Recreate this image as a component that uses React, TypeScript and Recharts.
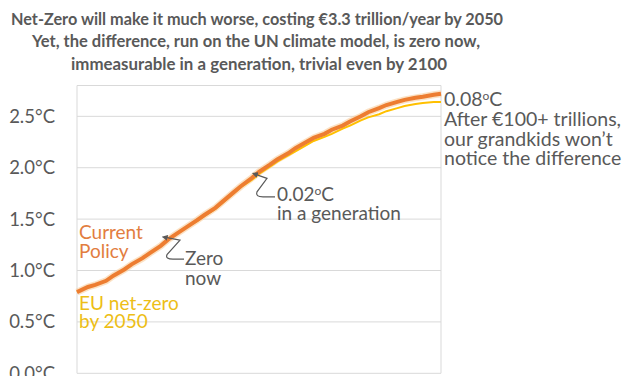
import React from "react";
import { LineChart, Line, XAxis, YAxis, CartesianGrid, ReferenceDot } from "recharts";

const years = [2000, 2003, 2005, 2008, 2010, 2013, 2015, 2018, 2020, 2023, 2025, 2027, 2030, 2033, 2035, 2038, 2040, 2043, 2045, 2048, 2050, 2053, 2055, 2058, 2060, 2063, 2065, 2068, 2070, 2073, 2075, 2078, 2080, 2083, 2085, 2088, 2090, 2093, 2095, 2098, 2100];
const currentPolicy = [0.79, 0.84, 0.86, 0.9, 0.95, 1.01, 1.06, 1.12, 1.17, 1.24, 1.3, 1.35, 1.42, 1.49, 1.54, 1.61, 1.67, 1.76, 1.82, 1.9, 1.96, 2.03, 2.08, 2.14, 2.19, 2.25, 2.29, 2.33, 2.37, 2.41, 2.45, 2.5, 2.54, 2.58, 2.61, 2.64, 2.66, 2.68, 2.69, 2.71, 2.72];
const euNetZero = [0.79, 0.84, 0.86, 0.9, 0.95, 1.01, 1.06, 1.12, 1.17, 1.24, 1.3, 1.35, 1.42, 1.48, 1.53, 1.6, 1.66, 1.75, 1.81, 1.88, 1.94, 2.01, 2.06, 2.12, 2.16, 2.22, 2.26, 2.3, 2.33, 2.38, 2.41, 2.46, 2.49, 2.52, 2.55, 2.58, 2.6, 2.62, 2.63, 2.64, 2.64];
const yTicks = [0, 0.5, 1, 1.5, 2, 2.5];
const xTicks = [2000, 2020, 2040, 2060, 2080, 2100];
const titleLines = [
  "Net-Zero will make it much worse, costing €3.3 trillion/year by 2050",
  "Yet, the difference, run on the UN climate model, is zero now,",
  "immeasurable in a generation, trivial even by 2100",
];
const titleWidths = [492, 448, 376];
const seriesNames = ["Current", "Policy", "EU net-zero", "by 2050"];

const data = years.map((year, i) => ({ year, current: currentPolicy[i], eu: euNetZero[i] }));

const FONT = "Lato, 'Open Sans', sans-serif";
const GREY = "#595959";
const ORANGE = "#ED7D31";
const YELLOW = "#FFC000";

const Deg = ({ v }: { v: string }) => (
  <>
    {v}
    <tspan fontSize={12} dy={-6}>o</tspan>
    <tspan dy={6}>C</tspan>
  </>
);

const Arrow = ({ d, id }: { d: string; id: string }) => (
  <g>
    <defs>
      <marker id={id} viewBox="0 0 10 10" refX="1" refY="5" markerWidth="5" markerHeight="5" orient="auto-start-reverse">
        <path d="M0,0 L10,5 L0,10 z" fill={GREY} />
      </marker>
    </defs>
    <path d={d} fill="none" stroke={GREY} strokeWidth={1.2} markerStart={`url(#${id})`} />
  </g>
);

const ZeroNow = (p: any) => {
  const { cx, cy } = p;
  const d = `M${cx - 1},${cy - 2} L${cx + 12},${cy + 0.5} L${cx - 1},${cy + 15} Q${cx - 3},${cy + 19.5} ${cx + 5},${cy + 19.5} L${cx + 16},${cy + 19.5}`;
  return (
    <g>
      <Arrow d={d} id="arrZero" />
      <text x={cx + 17} y={cy + 25.5} fill={GREY} fontFamily={FONT} fontSize={19}>Zero</text>
      <text x={cx + 17} y={cy + 45} fill={GREY} fontFamily={FONT} fontSize={19}>now</text>
    </g>
  );
};

const Generation = (p: any) => {
  const { cx, cy } = p;
  const d = `M${cx - 2},${cy + 3} L${cx + 8},${cy + 6.5} L${cx - 2},${cy + 20} Q${cx - 4},${cy + 25} ${cx + 4},${cy + 25} L${cx + 16},${cy + 25}`;
  return (
    <g>
      <Arrow d={d} id="arrGen" />
      <text x={cx + 18} y={cy + 29.5} fill={GREY} fontFamily={FONT} fontSize={19}><Deg v="0.02" /></text>
      <text x={cx + 18} y={cy + 48} fill={GREY} fontFamily={FONT} fontSize={19}>in a generation</text>
    </g>
  );
};

const EndNote = (p: any) => {
  const { cx, cy } = p;
  return (
    <g fill={GREY} fontFamily={FONT} fontSize={19.5}>
      <text x={cx + 3} y={cy + 12.3}><Deg v="0.08" /></text>
      <text x={cx + 3} y={cy + 32.5}>After €100+ trillions,</text>
      <text x={cx + 3} y={cy + 52}>our grandkids won’t</text>
      <text x={cx + 3} y={cy + 71}>notice the difference</text>
    </g>
  );
};

const SeriesLabels = (p: any) => {
  const { cx, cy } = p;
  return (
    <g fontFamily={FONT} fontSize={19}>
      <text x={cx + 2} y={cy - 53} fill="#E27D40">{seriesNames[0]}</text>
      <text x={cx + 2} y={cy - 34} fill="#E27D40">{seriesNames[1]}</text>
      <text x={cx + 2} y={cy + 18} fill="#EDBE16">{seriesNames[2]}</text>
      <text x={cx + 2} y={cy + 36} fill="#EDBE16">{seriesNames[3]}</text>
    </g>
  );
};

export default function App() {
  return (
    <div style={{ position: "absolute", left: 0, top: 0, width: 627, height: 376, overflow: "hidden", background: "#fff" }}>
      <LineChart width={627} height={420} data={data} margin={{ top: 85.5, right: 186, left: 0, bottom: 16.7 }}>
        <CartesianGrid stroke="#D9D9D9" strokeWidth={1} />
        <XAxis
          dataKey="year"
          type="number"
          domain={[2000, 2100]}
          ticks={xTicks}
          height={30}
          axisLine={false}
          tickLine={false}
          tick={false}
        />
        <YAxis
          domain={[0, 2.8]}
          ticks={yTicks}
          width={77}
          axisLine={false}
          tickLine={false}
          tickSize={0}
          tickMargin={22}
          tickFormatter={(v: number) => `${v.toFixed(1)}°C`}
          tick={{ fill: GREY, fontSize: 18.5, fontFamily: FONT }}
        />
        <Line dataKey="current" stroke="#F9CE9E" strokeWidth={7} strokeOpacity={0.6} dot={false} activeDot={false} isAnimationActive={false} />
        <Line dataKey="eu" stroke={YELLOW} strokeWidth={2} dot={false} activeDot={false} isAnimationActive={false} />
        <Line dataKey="current" stroke={ORANGE} strokeWidth={4} dot={false} activeDot={false} isAnimationActive={false} />
        <ReferenceDot x={2000} y={currentPolicy[0]} r={0} shape={SeriesLabels} ifOverflow="visible" />
        <ReferenceDot x={2025} y={currentPolicy[10]} r={0} shape={ZeroNow} ifOverflow="visible" />
        <ReferenceDot x={2050} y={currentPolicy[20]} r={0} shape={Generation} ifOverflow="visible" />
        <ReferenceDot x={2100} y={currentPolicy[40]} r={0} shape={EndNote} ifOverflow="visible" />
      </LineChart>
      <svg width={627} height={80} style={{ position: "absolute", left: 0, top: 0, pointerEvents: "none" }}>
        <g fill={GREY} fontFamily={FONT} fontWeight="bold" fontSize={17.5} textAnchor="middle">
          <text x={257} y={24.5} textLength={titleWidths[0]} lengthAdjust="spacingAndGlyphs">{titleLines[0]}</text>
          <text x={256} y={47} textLength={titleWidths[1]} lengthAdjust="spacingAndGlyphs">{titleLines[1]}</text>
          <text x={259} y={69.5} textLength={titleWidths[2]} lengthAdjust="spacingAndGlyphs">{titleLines[2]}</text>
        </g>
      </svg>
    </div>
  );
}
